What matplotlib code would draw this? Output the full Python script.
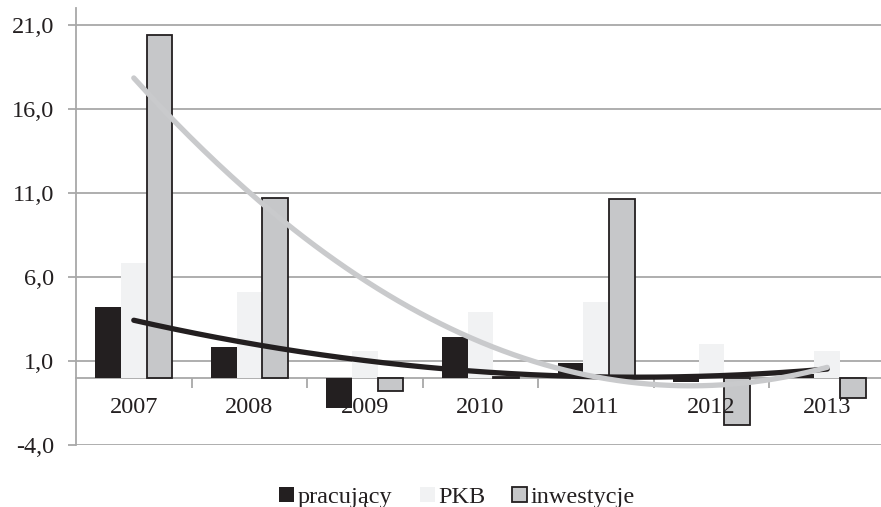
import numpy as np
import matplotlib
matplotlib.use("Agg")
import matplotlib.pyplot as plt
from matplotlib.ticker import FixedLocator
import matplotlib.transforms as mtransforms

years = ["2007", "2008", "2009", "2010", "2011", "2012", "2013"]
pracujacy = [4.2, 1.86, -1.77, 2.4, 0.9, -0.25, 0.2]
pkb = [6.8, 5.1, 1.6, 3.9, 4.5, 2.0, 1.6]
inwestycje = [20.4, 10.7, -0.8, 0.05, 10.65, -2.8, -1.2]
yticks = [-4.0, 1.0, 6.0, 11.0, 16.0, 21.0]

plt.rcParams['font.family'] = ['Liberation Serif', 'DejaVu Serif']
fig = plt.figure(figsize=(8.81, 5.07), dpi=100)
ax = fig.add_axes([76/881, 62/507, 809/881, 437/507])

x = np.arange(len(years))
w = 0.222
grid_c = '#a8a8a8'
txt_c = '#231f20'
ax.bar(x - w, pracujacy, w, color='#231f20', zorder=3, label='pracujący')
ax.bar(x, pkb, w, color='#f1f2f3', zorder=3, label='PKB')
ax.bar(x + w, inwestycje, w, color='#c6c7c9', edgecolor='#231f20', linewidth=1.3, zorder=3, label='inwestycje')

xs = np.linspace(0, 6, 200)
c1 = np.polyfit(x, pracujacy, 2)
c2 = np.polyfit(x, inwestycje, 2)
ax.plot(xs, np.polyval(c1, xs), color='#231f20', lw=3.8, zorder=4, solid_capstyle='round')
ax.plot(xs, np.polyval(c2, xs), color='#c9cacc', lw=3.8, zorder=5, solid_capstyle='round')

ax.set_xlim(-0.5, 6.5)
ax.set_ylim(-4, 22.0)
ax.yaxis.set_major_locator(FixedLocator(yticks))
ax.set_yticklabels([f"{v:.1f}".replace('.', ',') for v in yticks], fontsize=17.5)
ax.yaxis.grid(True, color=grid_c, lw=1.3, zorder=0)
ax.set_axisbelow(True)

ax.spines['bottom'].set_position(('data', 0))
for s in ['top', 'right']:
    ax.spines[s].set_visible(False)
ax.spines['bottom'].set_color(grid_c)
ax.spines['left'].set_color(grid_c)
ax.spines['bottom'].set_linewidth(1.3)
ax.spines['left'].set_linewidth(1.3)

ax.set_xticks(x)
ax.set_xticklabels([''] * len(years))
ax.set_xticks(np.arange(0.5, 6.5, 1.0), minor=True)
ax.tick_params(axis='x', which='major', length=0)
ax.tick_params(axis='x', which='minor', length=7, width=1.3, color=grid_c, direction='out')
ax.tick_params(axis='y', length=6, width=1.3, color=grid_c, pad=10, labelcolor=txt_c)

trans = mtransforms.offset_copy(ax.transData, fig=fig, x=0, y=-30, units='dots')
for xi, lab in zip(x, years):
    ax.text(xi, 0, lab, transform=trans, ha='center', va='center', fontsize=17.5,
            color=txt_c, zorder=6)

leg = fig.legend(loc='lower center', bbox_to_anchor=(0.519, -0.045), ncol=3, frameon=False,
                 fontsize=17.5, handlelength=0.62, handleheight=0.62, handletextpad=0.15,
                 columnspacing=1.1)
for t in leg.get_texts():
    t.set_color(txt_c)

fig.savefig("out.png", dpi=100)
